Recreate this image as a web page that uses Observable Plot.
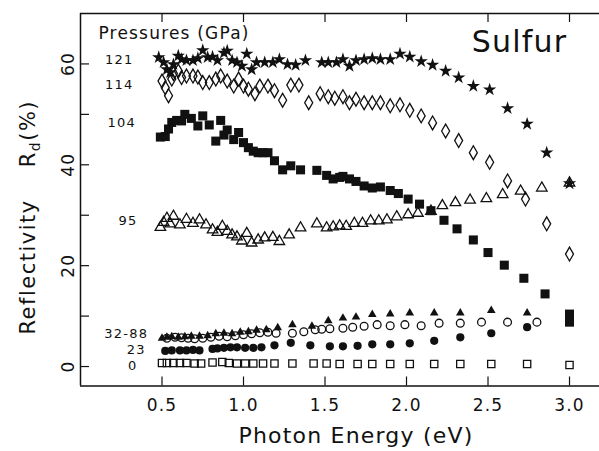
<!DOCTYPE html>
<html><head><meta charset="utf-8">
<script src="https://cdn.jsdelivr.net/npm/d3@7"></script>
<script src="https://cdn.jsdelivr.net/npm/@observablehq/plot@0.6"></script>
<style>
html,body{margin:0;padding:0;background:#fff;overflow:hidden}
svg text{letter-spacing:1.2px}
</style></head><body><div id="chart"></div>
<script>
// ---- data (photon energy in eV, reflectivity in %) ----
const e0   = [0.50,0.53,0.57,0.61,0.65,0.70,0.74,0.81,0.87,0.91,0.96,1.01,1.06,1.12,1.19,1.30,1.43,1.51,1.59,1.70,1.79,1.90,2.02,2.17,2.33,2.52,2.74,3.00];
const r0   = [0.7,0.7,0.7,0.7,0.7,0.6,0.6,0.8,0.9,0.7,0.6,0.6,0.6,0.6,0.6,0.6,0.6,0.6,0.5,0.5,0.5,0.5,0.5,0.5,0.5,0.5,0.5,0.3];
const e23  = [0.52,0.56,0.61,0.65,0.69,0.73,0.81,0.84,0.88,0.92,0.96,1.01,1.06,1.11,1.19,1.29,1.41,1.53,1.61,1.70,1.79,1.90,2.02,2.17,2.33,2.52,2.74];
const r23  = [3.1,3.2,3.2,3.2,3.3,3.2,3.5,3.6,3.7,3.8,3.8,3.7,3.7,3.8,4.2,4.7,4.2,4.0,4.0,4.1,4.4,4.4,4.6,5.1,5.8,6.6,7.8];
const e32t = [0.50,0.53,0.56,0.60,0.64,0.68,0.73,0.78,0.83,0.88,0.93,0.98,1.03,1.08,1.14,1.21,1.30,1.42,1.52,1.61,1.69,1.79,1.90,2.02,2.17,2.33,2.52,2.74];
const r32t = [5.6,5.8,5.9,5.8,5.9,6.0,6.0,6.1,6.5,6.6,6.5,6.8,6.9,7.2,7.3,7.7,8.3,8.0,9.1,9.6,9.8,10.3,10.4,10.6,10.6,10.6,11.1,10.6];
const e32c = [0.53,0.58,0.62,0.66,0.70,0.75,0.80,0.85,0.90,0.95,1.00,1.05,1.10,1.15,1.20,1.30,1.37,1.44,1.48,1.53,1.61,1.67,1.74,1.82,1.90,1.99,2.09,2.20,2.33,2.46,2.62,2.80];
const r32c = [5.6,5.8,5.7,5.6,5.5,5.6,5.8,6.0,5.9,6.1,6.3,6.5,6.7,6.8,6.6,6.6,6.9,7.3,7.4,7.5,7.6,7.8,8.0,8.3,8.1,8.3,8.1,8.6,8.6,8.8,8.8,8.8];
const e95  = [0.49,0.51,0.53,0.55,0.57,0.61,0.65,0.69,0.73,0.77,0.81,0.84,0.87,0.90,0.93,0.96,0.99,1.02,1.05,1.09,1.13,1.18,1.22,1.28,1.35,1.45,1.51,1.55,1.59,1.63,1.68,1.73,1.78,1.83,1.88,1.94,2.01,2.07,2.15,2.22,2.30,2.39,2.49,2.59,2.70,2.83,3.00];
const r95  = [27.6,28.6,29.4,28.3,29.8,28.1,29.2,28.4,29.1,28.1,27.1,26.6,27.8,26.8,26.1,25.7,24.9,26.4,24.5,25.1,25.5,25.6,24.8,26.1,27.5,28.3,27.5,27.7,27.9,27.8,28.4,28.4,28.9,28.9,29.1,29.7,30.1,30.4,30.8,31.9,32.5,33.0,33.3,34.1,34.8,35.4,36.4];
const e104 = [0.49,0.52,0.54,0.56,0.59,0.62,0.64,0.68,0.72,0.75,0.79,0.83,0.86,0.88,0.90,0.94,0.97,1.00,1.03,1.06,1.09,1.12,1.15,1.19,1.24,1.29,1.35,1.45,1.51,1.55,1.59,1.61,1.65,1.69,1.74,1.79,1.84,1.90,1.95,2.01,2.08,2.15,2.23,2.31,2.41,2.50,2.60,2.72,2.85,3.00,3.00];
const r104 = [45.5,45.6,47.1,48.4,48.8,48.7,50.0,49.2,47.7,49.7,47.9,44.7,48.8,45.9,46.9,45.0,46.4,44.4,43.4,42.7,42.4,42.4,42.4,40.8,39.0,39.8,39.0,38.9,37.9,37.2,37.5,37.7,37.2,36.7,35.8,35.4,35.6,34.9,34.3,33.2,32.2,30.9,29.0,27.3,25.1,22.6,20.1,17.5,14.4,10.4,8.8];
const e114 = [0.50,0.52,0.54,0.56,0.57,0.60,0.62,0.65,0.69,0.72,0.75,0.79,0.83,0.86,0.90,0.94,0.97,1.00,1.03,1.07,1.10,1.15,1.19,1.24,1.29,1.34,1.40,1.47,1.52,1.56,1.61,1.65,1.69,1.74,1.79,1.84,1.90,1.96,2.02,2.09,2.16,2.24,2.32,2.41,2.51,2.62,2.73,2.86,3.00];
const r114 = [56.6,55.3,53.7,57.0,58.1,58.6,57.3,57.6,57.6,57.4,56.3,56.3,57.0,57.6,56.6,55.6,57.0,55.6,55.0,54.1,55.6,55.6,54.7,52.8,55.8,55.8,52.3,54.1,53.5,53.2,53.5,52.3,53.0,52.3,52.3,52.3,51.7,51.9,50.8,49.7,48.3,46.7,44.8,42.4,40.5,36.8,33.2,28.3,22.3];
const e121 = [0.48,0.51,0.53,0.55,0.57,0.60,0.62,0.65,0.69,0.72,0.75,0.78,0.81,0.84,0.88,0.90,0.93,0.96,0.99,1.02,1.05,1.08,1.13,1.18,1.22,1.27,1.32,1.38,1.48,1.52,1.57,1.61,1.65,1.69,1.74,1.79,1.84,1.90,1.96,2.02,2.09,2.16,2.24,2.32,2.41,2.51,2.62,2.74,2.86,3.00];
const r121 = [61.3,60.3,58.9,58.3,59.9,61.6,60.9,60.7,60.7,61.1,62.7,61.3,61.4,60.7,62.2,62.6,60.7,60.3,59.6,62.0,58.9,60.3,60.3,60.3,60.9,59.9,59.8,60.7,60.3,60.3,60.3,60.9,59.6,60.7,60.9,61.1,60.9,60.9,62.0,61.4,60.5,59.8,58.6,57.3,55.6,54.9,51.2,48.1,42.4,36.3];

// ---- axes / annotations ----
const xTicks = [0.5,1.0,1.5,2.0,2.5,3.0];
const yTicks = [0,10,20,30,40,50,60];
const yLabelTicks = [0,20,40,60];
const seriesLabels = ["121","114","104","95","32-88","23","0"];
const labelE = [0.325,0.325,0.34,0.35,0.415,0.40,0.35];
const labelR = [60.8,55.8,48.4,28.8,6.5,3.4,0.2];
const legendTitle = "Pressures (GPa)";
const sampleName = "Sulfur";
const xTitle = "Photon Energy (eV)";

const zip = (es, rs) => es.map((e, i) => ({e, r: rs[i]}));
const ink = "#111";
const W = 599, H = 451, mL = 80, mR = 0, mT = 13, mB = 65.5;
const frameW = W - mL - mR, frameH = H - mT - mB;
const xDomain = [0, 3.184], yDomain = [-3.86, 70];

const plot = Plot.plot({
  width: W, height: H,
  marginLeft: mL, marginRight: mR, marginTop: mT, marginBottom: mB,
  x: {domain: xDomain}, y: {domain: yDomain},
  style: {fontFamily: "DejaVu Sans", fontSize: "17px", color: ink, background: "white", overflow: "visible"},
  marks: [
    Plot.ruleY(yDomain, {stroke: ink, strokeWidth: 1.5}),
    Plot.ruleX([xDomain[0]], {stroke: ink, strokeWidth: 1.5}),
    Plot.tickX(xTicks, {stroke: ink, strokeWidth: 1.2, insetTop: frameH - 9}),
    Plot.tickX(xTicks, {stroke: ink, strokeWidth: 1.2, insetBottom: frameH - 9}),
    Plot.tickY(yTicks, {stroke: ink, strokeWidth: 1.2, insetRight: frameW - 9}),
    Plot.axisX({ticks: xTicks, tickSize: 0, tickPadding: 13, tickFormat: d3.format(".1f"), label: null, fontSize: 17}),
    Plot.axisY({ticks: yLabelTicks, tickSize: 0, tickPadding: 7, tickRotate: -90, label: null, fontSize: 17}),
    // series
    Plot.dot(zip(e0, r0), {x: "e", y: "r", symbol: "square", r: 4.1, stroke: ink, strokeWidth: 1.3, fill: "none"}),
    Plot.dot(zip(e23, r23), {x: "e", y: "r", symbol: "circle", r: 4.1, fill: ink, stroke: "none"}),
    Plot.dot(zip(e32c, r32c), {x: "e", y: "r", symbol: "circle", r: 3.9, stroke: ink, strokeWidth: 1.3, fill: "none"}),
    Plot.dot(zip(e32t, r32t), {x: "e", y: "r", symbol: "triangle", r: 3.2, fill: ink, stroke: "none"}),
    Plot.dot(zip(e95, r95), {x: "e", y: "r", symbol: "triangle", r: 3.9, stroke: ink, strokeWidth: 1.3, fill: "none"}),
    Plot.dot(zip(e104, r104), {x: "e", y: "r", symbol: "square", r: 5.1, fill: ink, stroke: "none"}),
    Plot.dot(zip(e114, r114), {x: "e", y: "r", symbol: "diamond", r: 4.2, stroke: ink, strokeWidth: 1.3, fill: "none"}),
    Plot.dot(zip(e121, r121), {x: "e", y: "r", symbol: "star", r: 4.2, fill: ink, stroke: "none"}),
    // annotations
    Plot.text(seriesLabels, {x: (d, i) => labelE[i], y: (d, i) => labelR[i], text: d => d, textAnchor: "end", fontSize: 13, fill: ink}),
    Plot.text([legendTitle], {x: [0.11], y: [66.0], text: d => d, textAnchor: "start", fontSize: 17, fill: ink}),
    Plot.text([sampleName], {x: [2.40], y: [64.2], text: d => d, textAnchor: "start", fontSize: 30, fill: ink}),
    Plot.text([xTitle], {x: [1.69], frameAnchor: "bottom", dy: 57, text: d => d, textAnchor: "middle", fontSize: 22, fill: ink})
  ]
});

// y-axis title with subscript
const yS = plot.scale("y");
const svg = d3.select(plot);
const t = svg.append("text")
  .attr("transform", `translate(35,${yS.apply(29.5)}) rotate(-90)`)
  .attr("text-anchor", "middle")
  .attr("fill", ink)
  .style("font-family", "DejaVu Sans")
  .style("font-size", "21px")
  .style("letter-spacing", "1.5px");
t.append("tspan").text("Reflectivity");
t.append("tspan").attr("dx", 32).text("R");
t.append("tspan").attr("dy", 5).style("font-size", "14px").text("d");
t.append("tspan").attr("dy", -5).text("(%)");

document.getElementById("chart").appendChild(plot);
</script></body></html>
